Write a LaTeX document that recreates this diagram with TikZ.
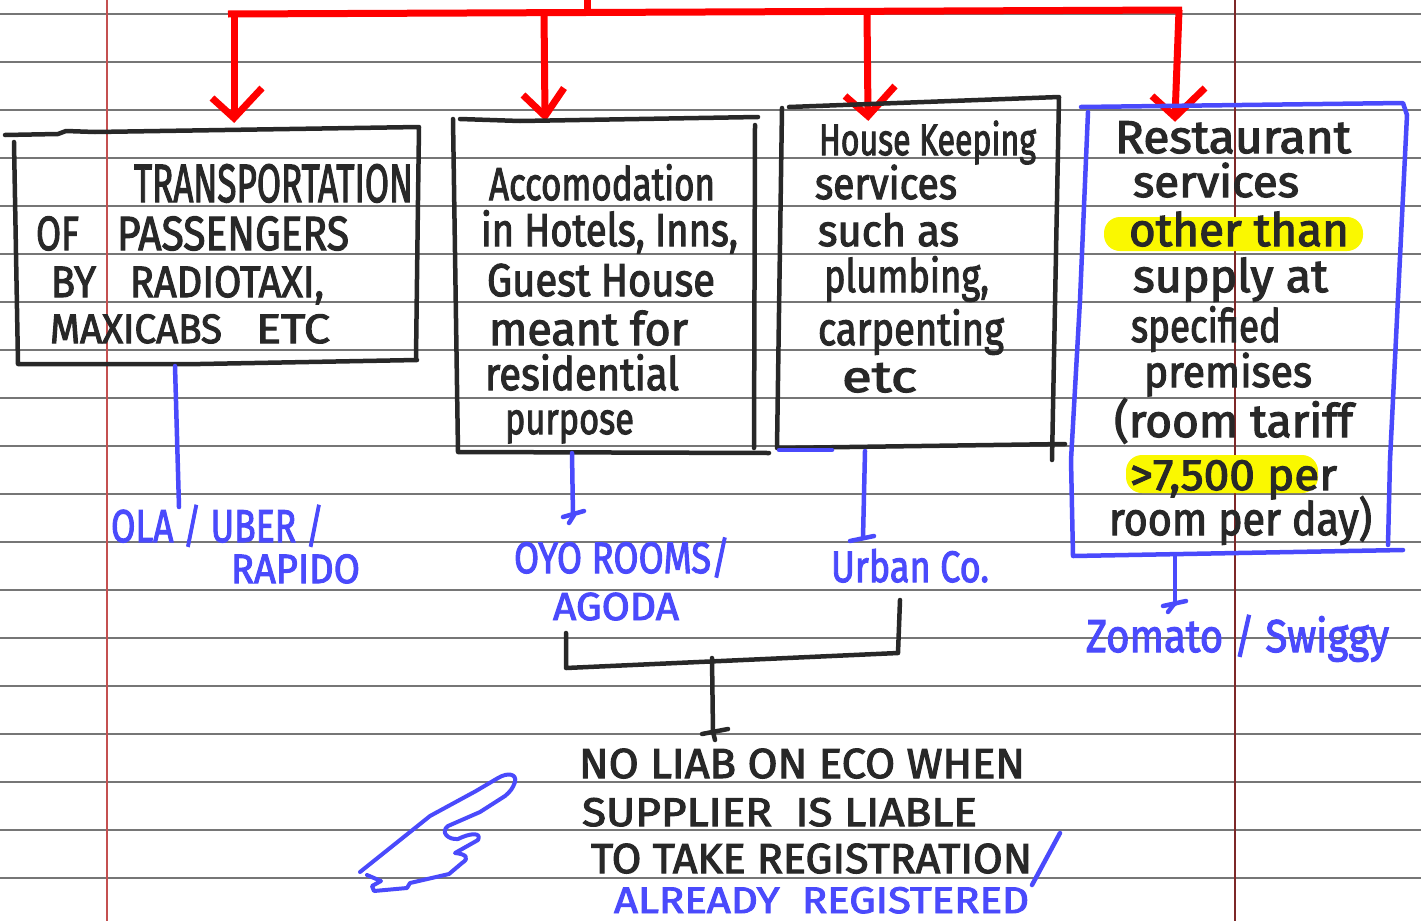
\documentclass[tikz,border=0pt]{standalone}
\usepackage{fontspec}
\setmainfont{Fira Sans}[FakeBold=2.5]
\usepackage{graphicx}
\usetikzlibrary{calc}

\definecolor{inkblack}{RGB}{40,40,40}
\definecolor{inkblue}{RGB}{74,74,252}
\definecolor{rulegray}{RGB}{118,118,118}
\definecolor{marginred}{RGB}{196,80,80}
\definecolor{margindark}{RGB}{125,40,40}
\definecolor{hiyellow}{RGB}{250,248,0}
\definecolor{penred}{RGB}{255,0,0}

% handwritten line: size, width (pt), text
\newcommand{\hw}[3]{\resizebox{#2pt}{\height}{\fontsize{#1pt}{#1pt}\selectfont #3}}

\tikzset{
  rule/.style={draw=rulegray, line width=1.4},
  ink/.style={draw=inkblack, line width=4.5, line cap=round, line join=round},
  blueink/.style={draw=inkblue, line width=4.5, line cap=round, line join=round},
  redink/.style={draw=penred, line width=7, line join=miter},
  txt/.style={anchor=base west, inner sep=0pt, outer sep=0pt, text=inkblack},
  bluetxt/.style={txt, text=inkblue},
  hilite/.style={fill=hiyellow, draw=none, rounded corners=16}
}

\begin{document}
\begin{tikzpicture}[x=1pt, y=-1pt]
\useasboundingbox (0,0) rectangle (1421,921);
\fill[white] (0,0) rectangle (1421,921);

% ruled paper
\foreach \k in {0,...,18} \draw[rule] (0,{14+48*\k}) -- (1421,{14+48*\k});
\draw[marginred, line width=1.3] (107,0) -- (107,921);
\draw[margindark, line width=1.1] (1235,0) -- (1235,921);

% highlighter marks
\fill[hilite] (1104,217) rectangle (1363,251);
\fill[hilite] (1126,455) rectangle (1318,493);

% red tree
\coordinate (rtop) at (587,0);
\coordinate (rjoin) at (587,12);
\coordinate (rl) at (231,14);
\coordinate (rr) at (1182,10);
\coordinate (a1) at (234,118);
\coordinate (a2) at (545,116);
\coordinate (a3) at (868,116);
\coordinate (a4) at (1175,117);
\draw[redink] (rtop) -- (rjoin);
\draw[redink, line cap=butt] ($(rl)+(-3,0)$) -- (rr);
\draw[redink] (234,14) -- (a1);
\draw[redink] (544,13) -- (a2);
\draw[redink] (867,12) -- (a3);
\draw[redink] (1179,10) -- (a4);
\draw[redink] ($(a1)+(-22,-20)$) -- (a1) -- ($(a1)+(28,-30)$);
\draw[redink] ($(a2)+(-22,-21)$) -- (a2) -- ($(a2)+(19,-28)$);
\draw[redink] ($(a3)+(-23,-20)$) -- (a3) -- ($(a3)+(27,-30)$);
\draw[redink] ($(a4)+(-23,-21)$) -- (a4) -- ($(a4)+(30,-29)$);

% box 1
\draw[ink] (5,135) -- (58,134) -- (66,131) -- (95,132) -- (419,127) -- (418,200) -- (416,358);
\draw[ink] (14,142) -- (18,364) -- (200,364) -- (417,360);
% box 2
\draw[ink] (460,119) -- (520,121) -- (758,117);
\draw[ink] (453,119) -- (458,452) -- (769,453);
\draw[ink] (755,125) -- (754,448);
% box 3
\draw[ink] (789,107) -- (1059,97) -- (1052,460);
\draw[ink] (782,108) -- (777,448) -- (1065,444);
\draw[blueink] (779,450) -- (832,450);
% box 4
\draw[blueink] (1081,107) -- (1403,103) -- (1407,115) -- (1390,460) -- (1388,545);
\draw[blueink] (1088,112) -- (1080,300) -- (1071,460) -- (1073,556) -- (1403,550);

% connectors down to the apps
\coordinate (b1s) at (175,366);
\coordinate (ola) at (179,507);
\coordinate (b2s) at (572,453);
\coordinate (oyo) at (573,516);
\coordinate (b3s) at (865,451);
\coordinate (urb) at (863,538);
\coordinate (b4s) at (1175,556);
\coordinate (zom) at (1175,604);
\draw[blueink] (b1s) -- (ola);
\draw[blueink] (b2s) -- (oyo);
\draw[blueink] (563,517) -- (584,511);
\draw[blueink] (574,515) -- (569,523);
\draw[blueink] (b3s) -- (urb);
\draw[blueink] (850,541) -- (874,536);
\draw[blueink] (b4s) -- (zom);
\draw[blueink] (1163,606) -- (1186,601);
\draw[blueink] (1174,604) -- (1168,612);

% bracket joining two groups
\coordinate (brl) at (566,633);
\coordinate (brr) at (900,600);
\coordinate (brm) at (712,658);
\coordinate (brend) at (713,733);
\draw[ink] (brl) -- (566,668) -- (898,653) -- (brr);
\draw[ink] (brm) -- (brend);
\draw[ink] (702,734) -- (728,729);
\draw[ink] (713,732) -- (715,740);

% box 1 text
\node[txt] (t1a) at (134,202) {\hw{54}{279}{TRANSPORTATION}};
\node[txt] (t1b) at (36,250) {\hw{48}{43}{OF}};
\node[txt] (t1c) at (117,250) {\hw{48}{232}{PASSENGERS}};
\node[txt] (t1d) at (51,297) {\hw{44}{45}{BY}};
\node[txt] (t1e) at (130,297) {\hw{44}{194}{RADIOTAXI,}};
\node[txt] (t1f) at (50,343) {\hw{41}{172}{MAXICABS}};
\node[txt] (t1g) at (256,343) {\hw{41}{74}{ETC}};

% box 2 text
\node[txt] (t2a) at (489,200) {\hw{46}{226}{Accomodation}};
\node[txt] (t2b) at (481,246) {\hw{46}{257}{in Hotels, Inns,}};
\node[txt] (t2c) at (487,296) {\hw{46}{228}{Guest House}};
\node[txt] (t2d) at (489,345) {\hw{46}{199}{meant for}};
\node[txt] (t2e) at (485,390) {\hw{46}{194}{residential}};
\node[txt] (t2f) at (505,434) {\hw{44}{129}{purpose}};

% box 3 text
\node[txt] (t3a) at (819,155) {\hw{44}{217}{House Keeping}};
\node[txt] (t3b) at (815,199) {\hw{44}{142}{services}};
\node[txt] (t3c) at (818,246) {\hw{44}{141}{such as}};
\node[txt] (t3d) at (824,292) {\hw{46}{165}{plumbing,}};
\node[txt] (t3e) at (818,345) {\hw{46}{186}{carpenting}};
\node[txt] (t3f) at (842,392) {\hw{44}{75}{etc}};

% box 4 text
\node[txt] (t4a) at (1115,153) {\hw{46}{236}{Restaurant}};
\node[txt] (t4b) at (1133,197) {\hw{44}{166}{services}};
\node[txt] (t4c) at (1129,246) {\hw{46}{220}{other than}};
\node[txt] (t4d) at (1133,292) {\hw{46}{195}{supply at}};
\node[txt] (t4e) at (1131,342) {\hw{46}{150}{specified}};
\node[txt] (t4f) at (1144,387) {\hw{44}{168}{premises}};
\node[txt] (t4g) at (1114,437) {\hw{46}{239}{(room tariff}};
\node[txt] (t4h) at (1130,490) {\hw{44}{207}{>7,500 per}};
\node[txt] (t4i) at (1109,535) {\hw{46}{263}{room per day)}};

% app names
\node[bluetxt] (ap1) at (111,542) {\hw{46}{213}{OLA / UBER /}};
\node[bluetxt] (ap2) at (231,583) {\hw{41}{129}{RAPIDO}};
\node[bluetxt] (ap3) at (514,573) {\hw{44}{216}{OYO ROOMS/}};
\node[bluetxt] (ap4) at (553,620) {\hw{39}{126}{AGODA}};
\node[bluetxt] (ap5) at (831,582) {\hw{44}{158}{Urban Co.}};
\node[bluetxt] (ap6) at (1086,652) {\hw{46}{303}{Zomato / Swiggy}};

% conclusion
\node[txt] (c1) at (579,778) {\hw{42}{446}{NO LIAB ON ECO WHEN}};
\node[txt] (c2) at (582,826) {\hw{40}{395}{SUPPLIER \ IS LIABLE}};
\node[txt] (c3) at (591,873) {\hw{42}{441}{TO TAKE REGISTRATION}};
\node[bluetxt] (c4) at (614,913) {\hw{37}{415}{ALREADY \ REGISTERED}};
\draw[blueink] (1060,833) -- (1032,885);

% pointing hand
\draw[blueink, line width=4] (360,872) -- (430,816) -- (476,791) -- (498,778)
  .. controls (508,772) and (517,774) .. (515,782)
  .. controls (513,788) and (510,792) .. (505,796)
  -- (480,812) -- (448,826)
  .. controls (440,832) and (448,840) .. (458,839)
  .. controls (470,833) and (482,832) .. (478,840)
  -- (455,853)
  .. controls (466,854) and (470,858) .. (462,863)
  -- (449,874) -- (410,883) -- (407,888) -- (374,891)
  -- (372,886) -- (381,881) -- (367,875);
\end{tikzpicture}
\end{document}
